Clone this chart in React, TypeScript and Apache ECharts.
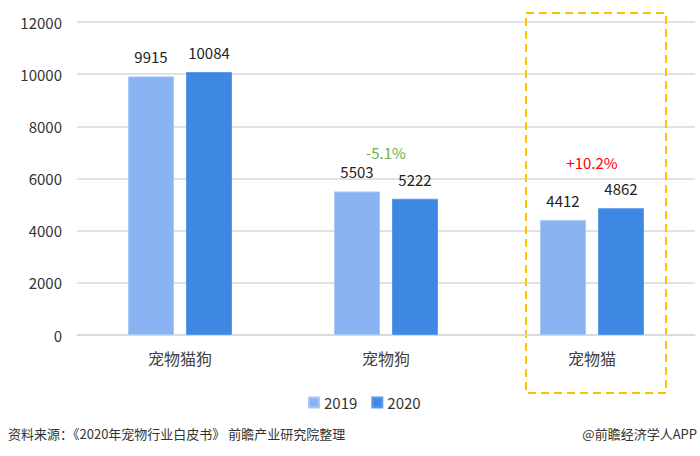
import React, { useEffect, useRef } from "react";
import * as echarts from "echarts";

const categories = ["宠物猫狗", "宠物狗", "宠物猫"];
const seriesNames = ["2019", "2020"];
const values2019 = [9915, 5503, 4412];
const values2020 = [10084, 5222, 4862];
const yTicks = { min: 0, max: 12000, interval: 2000 };
const changeLabels = ["", "-5.1%", "+10.2%"];
const changeColors = ["", "#70AD47", "#FF0000"];
const changeAt = [0, 7000, 6600];
const sourceText = "资料来源：《2020年宠物行业白皮书》 前瞻产业研究院整理";
const creditText = "@前瞻经济学人APP";

const FONT = "'Noto Sans CJK SC', 'Noto Sans', sans-serif";

export default function App() {
  const ref = useRef<HTMLDivElement>(null);
  useEffect(() => {
    if (!ref.current) return;
    const chart = echarts.init(ref.current, undefined, { renderer: "svg" });
    chart.setOption({
      animation: false,
      textStyle: { fontFamily: FONT },
      grid: { left: 77, right: 5, top: 22, bottom: 121 },
      legend: {
        data: seriesNames,
        left: 303,
        top: 390,
        itemWidth: 10,
        itemHeight: 10,
        itemGap: 14,
        icon: "rect",
        textStyle: { fontSize: 15, color: "#333", fontFamily: FONT },
      },
      xAxis: {
        type: "category",
        data: categories,
        axisLine: { lineStyle: { color: "#d9d9d9", width: 1.5 } },
        axisTick: { show: false },
        axisLabel: { fontSize: 16, color: "#404040", margin: 15, fontFamily: FONT },
      },
      yAxis: {
        type: "value",
        min: yTicks.min,
        max: yTicks.max,
        interval: yTicks.interval,
        axisLine: { show: false },
        axisTick: { show: false },
        axisLabel: {
          fontSize: 15,
          color: "#333",
          margin: 15,
          fontFamily: FONT,
          formatter: (v: number) => String(v),
        },
        splitLine: { lineStyle: { color: "#d9d9d9", width: 1.5 } },
      },
      series: [
        {
          name: seriesNames[0],
          type: "bar",
          data: values2019,
          barWidth: 46,
          barGap: "26%",
          itemStyle: { color: "#8AB4F1", borderColor: "#A9C8F5", borderWidth: 1 },
          label: { show: true, position: "top", distance: 12, fontSize: 15, color: "#222", fontFamily: FONT },
        },
        {
          name: seriesNames[1],
          type: "bar",
          data: values2020,
          barWidth: 46,
          itemStyle: { color: "#3E88E3", borderColor: "#5B9AE8", borderWidth: 1 },
          label: { show: true, position: "top", distance: 12, fontSize: 15, color: "#222", fontFamily: FONT },
        },
      ],
    });

    const graphics: any[] = [];
    categories.forEach((c, i) => {
      if (!changeLabels[i]) return;
      const p = chart.convertToPixel({ gridIndex: 0 }, [c, changeAt[i]]) as number[];
      graphics.push({
        type: "text",
        x: p[0],
        y: p[1],
        style: {
          text: changeLabels[i],
          fill: changeColors[i],
          font: `15px ${FONT}`,
          align: "center",
          verticalAlign: "middle",
        },
      });
    });
    const pc = chart.convertToPixel({ gridIndex: 0 }, [categories[2], 0]) as number[];
    graphics.push({
      type: "rect",
      shape: { x: pc[0] - 66, y: 13, width: 140, height: 380 },
      style: { fill: "none", stroke: "#FFC000", lineWidth: 2, lineDash: [8, 5] },
    });
    graphics.push({
      type: "text",
      left: 8,
      top: 427,
      style: { text: sourceText, fill: "#333", font: `13px ${FONT}` },
    });
    graphics.push({
      type: "text",
      right: 3,
      top: 427,
      style: { text: creditText, fill: "#333", font: `13px ${FONT}` },
    });
    chart.setOption({ graphic: graphics });
    return () => chart.dispose();
  }, []);
  return (
    <div
      ref={ref}
      style={{ position: "absolute", left: 0, top: 0, width: 700, height: 456, background: "#fff" }}
    />
  );
}
